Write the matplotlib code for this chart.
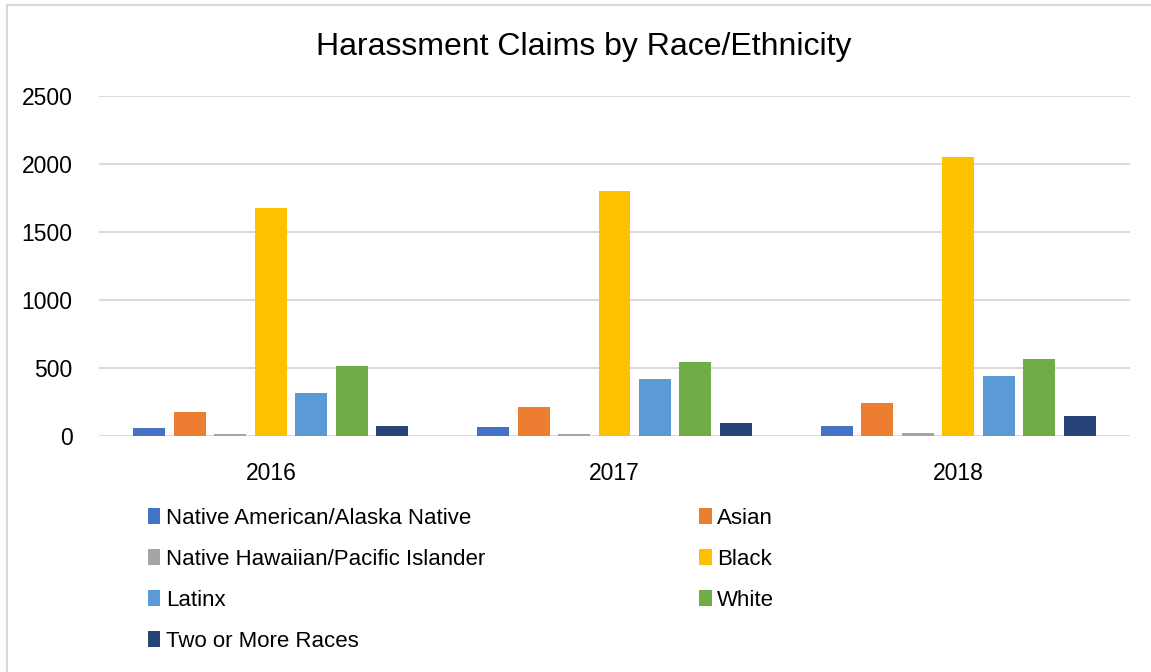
import numpy as np
import matplotlib
matplotlib.use("Agg", force=True)
import matplotlib.pyplot as plt
from matplotlib.patches import Patch
from matplotlib.lines import Line2D

plt.rcParams["font.family"] = ["Liberation Sans", "DejaVu Sans"]

years = ["2016", "2017", "2018"]
groups = [
    "Native American/Alaska Native",
    "Asian",
    "Native Hawaiian/Pacific Islander",
    "Black",
    "Latinx",
    "White",
    "Two or More Races",
]
native_am = [61, 66, 71]
asian = [174, 215, 243]
hawaiian = [15, 12, 22]
black = [1676, 1801, 2051]
latinx = [314, 421, 444]
white = [515, 542, 564]
two_more = [74, 96, 147]
series = [native_am, asian, hawaiian, black, latinx, white, two_more]
colors = ["#4472C4", "#ED7D31", "#A5A5A5", "#FFC000", "#5B9BD5", "#70AD47", "#264478"]

W, H = 1151, 672
fig = plt.figure(figsize=(W / 100, H / 100), dpi=100)
ax = fig.add_axes([99 / W, (H - 436) / H, (1130 - 99) / W, (436 - 96) / H])

x = np.arange(len(years))
step = 0.1178
width = 0.093
for i, (vals, c) in enumerate(zip(series, colors)):
    ax.bar(x + (i - 3) * step, vals, width=width, color=c, label=groups[i], zorder=3,
           linewidth=0)

ax.set_xlim(-0.5, 2.5)
ax.set_ylim(0, 2500)
ax.set_yticks(range(0, 2501, 500))
ax.yaxis.grid(True, color="#d9d9d9", linewidth=1.4, zorder=0)
ax.set_xticks(x)
ax.set_xticklabels(years)
for s in ax.spines.values():
    s.set_visible(False)
ax.tick_params(axis="both", length=0, labelsize=16.5, colors="black")
ax.tick_params(axis="y", pad=19)
ax.tick_params(axis="x", pad=19)

fig.text(583.5 / W, (H - 47) / H, "Harassment Claims by Race/Ethnicity", ha="center", va="center", fontsize=23)

# legend, filled column-wise
order = [0, 2, 4, 6, 1, 3, 5]
handles = [Patch(facecolor=colors[i], edgecolor="none") for i in order]
labels = [groups[i] for i in order]
fig.legend(handles, labels, loc="upper left", bbox_to_anchor=(128 / W, (H - 488) / H),
           ncol=2, frameon=False, fontsize=16, handlelength=0.55, handleheight=0.7,
           handletextpad=0.25, labelspacing=0.9, columnspacing=9.65)

# chart border (top and left visible)
fig.add_artist(Line2D([7 / W, 7 / W], [0, (H - 5) / H], color="#d9d9d9", linewidth=1.5))
fig.add_artist(Line2D([7 / W, 1], [(H - 5) / H, (H - 5) / H], color="#d9d9d9", linewidth=1.5))

fig.savefig("out.png", dpi=100, facecolor="white")
